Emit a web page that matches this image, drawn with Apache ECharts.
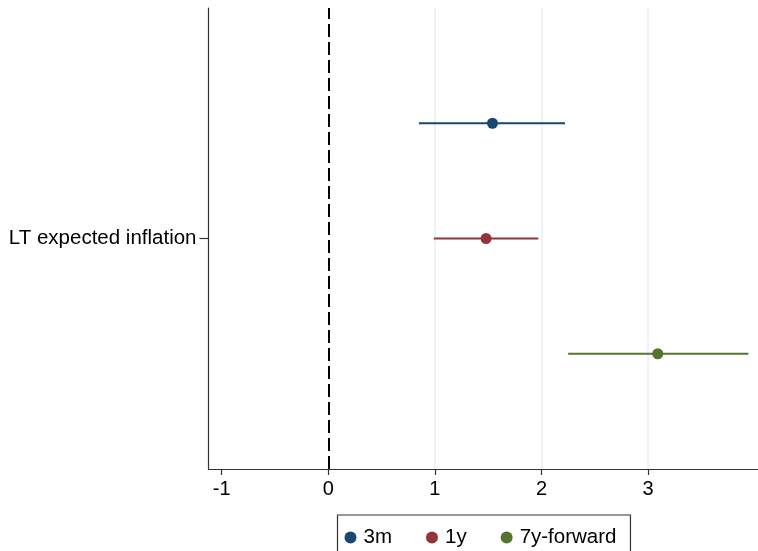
<!DOCTYPE html>
<html>
<head>
<meta charset="utf-8">
<script src="https://cdn.jsdelivr.net/npm/echarts@6/dist/echarts.min.js"></script>
<style>
  html, body { margin: 0; padding: 0; background: #fff; }
  #chart { width: 758px; height: 551px; }
</style>
</head>
<body>
<div id="chart"></div>
<script>
// Coefficient estimates with confidence intervals, one row per horizon
const seriesNames = ['3m', '1y', '7y-forward'];
const estimates = [1.54, 1.48, 3.09];
const ciLower = [0.85, 0.99, 2.25];
const ciUpper = [2.22, 1.97, 3.94];
const rowPos = [3, 2, 1];
const colors = ['#1a476f', '#90353b', '#55752f'];

const xTicks = [-1, 0, 1, 2, 3];
const gridValues = [1, 2, 3];
const yCategory = 'LT expected inflation';

const font = '"Liberation Sans", Arial, Helvetica, sans-serif';

const chart = echarts.init(document.getElementById('chart'), null, { renderer: 'canvas' });

function ciRenderer(params, api) {
  const y = api.value(3);
  const c = api.coord([api.value(0), y]);
  const lo = api.coord([api.value(1), y]);
  const hi = api.coord([api.value(2), y]);
  const color = api.visual('color');
  return {
    type: 'group',
    children: [
      { type: 'line', shape: { x1: lo[0], y1: lo[1], x2: hi[0], y2: hi[1] },
        style: { stroke: color, lineWidth: 2 } },
      { type: 'circle', shape: { cx: c[0], cy: c[1], r: 5.5 },
        style: { fill: color } }
    ]
  };
}

// Reference lines: light grid at whole units, dashed zero line
const series = [{
  name: '__ref',
  type: 'line',
  data: [],
  z: 1,
  zlevel: 0,
  markLine: {
    silent: true,
    symbol: 'none',
    z: 1,
    label: { show: false },
    data: gridValues.map(v => ({ xAxis: v, lineStyle: { color: '#e8eff2', width: 1.5, type: 'solid' } }))
      .concat([{ xAxis: 0, lineStyle: { color: '#000', width: 2, type: [13, 5] } }])
  }
}];

seriesNames.forEach((name, i) => {
  series.push({
    name: name,
    type: 'custom',
    z: 10,
    zlevel: 1,
    itemStyle: { color: colors[i] },
    renderItem: ciRenderer,
    encode: { x: [0, 1, 2], y: 3 },
    data: [[estimates[i], ciLower[i], ciUpper[i], rowPos[i]]]
  });
});

chart.setOption({
  animation: false,
  backgroundColor: '#fff',
  grid: { left: 208.5, right: 0, top: 8, bottom: 82, containLabel: false },
  xAxis: {
    type: 'value',
    min: -1.123,
    max: 4.03,
    axisLine: { show: true, onZero: false, lineStyle: { color: '#333', width: 1.2 } },
    axisTick: { show: true, length: 6, customValues: xTicks, lineStyle: { color: '#333', width: 1.2 } },
    axisLabel: { customValues: xTicks, color: '#000', fontSize: 20, fontFamily: font, margin: 10 },
    splitLine: { show: false }
  },
  yAxis: {
    type: 'value',
    min: 0,
    max: 4,
    axisLine: { show: true, onZero: false, lineStyle: { color: '#333', width: 1.2 } },
    axisTick: { show: true, length: 9, customValues: [2], lineStyle: { color: '#333', width: 1.2 } },
    axisLabel: { customValues: [2], formatter: () => yCategory, color: '#000', fontSize: 20.5, fontFamily: font, margin: 12 },
    splitLine: { show: false }
  },
  legend: {
    data: seriesNames.map(n => ({ name: n, icon: 'circle' })),
    left: 337.5,
    top: 515,
    orient: 'horizontal',
    itemWidth: 12,
    itemHeight: 12,
    itemGap: 34,
    padding: [12, 14, 12, 7],
    borderColor: '#333',
    borderWidth: 1.2,
    textStyle: { color: '#000', fontSize: 20.5, fontFamily: font, padding: [0, 0, 0, 2] }
  },
  series: series
});
</script>
</body>
</html>
